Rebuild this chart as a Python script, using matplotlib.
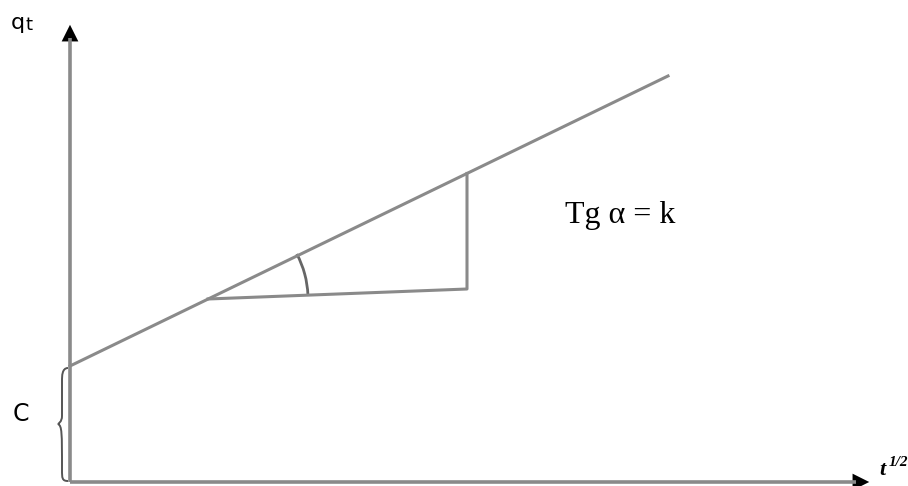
import numpy as np
import matplotlib.pyplot as plt
from matplotlib.patches import Arc, PathPatch, FancyArrowPatch
from matplotlib.path import Path

# intraparticle diffusion sketch: q_t = k * t^(1/2) + C
C = 116.0          # intercept on the q_t axis
k = 0.485          # slope, Tg(alpha)
t_end = 598.0      # where the straight line stops
tri_x = [138.0, 397.0]     # triangle: left corner on the line, right vertical leg
tri_base = [183.0, 193.0]  # base heights at the two corners
x_axis_len = 802.0
y_axis_len = 460.0

grey = '#8a8a8a'

fig = plt.figure(figsize=(9.08, 4.86), dpi=100)
ax = fig.add_axes([0, 0, 1, 1])
ax.set_xlim(-70, 838)
ax.set_ylim(-4, 482)
ax.set_axis_off()

# axes with arrow heads
ax.plot([0, 0], [0, y_axis_len - 16], color=grey, lw=2.6, solid_capstyle='butt')
ax.plot([0, x_axis_len - 16], [0, 0], color=grey, lw=2.6, solid_capstyle='butt')
ax.add_patch(FancyArrowPatch((0, y_axis_len - 22), (0, y_axis_len), arrowstyle='-|>',
                             mutation_scale=30, color='black', lw=0))
ax.add_patch(FancyArrowPatch((x_axis_len - 22, 0), (x_axis_len, 0), arrowstyle='-|>',
                             mutation_scale=30, color='black', lw=0))

# the straight line
t = np.array([0.0, t_end])
ax.plot(t, C + k * t, color=grey, lw=2.2)

# slope triangle
x0, x1 = tri_x
y_top = C + k * x1
ax.plot([x0, x1, x1], [tri_base[0], tri_base[1], y_top], color=grey, lw=2.2)

# angle arc
ang_line = np.degrees(np.arctan(k))
ang_base = np.degrees(np.arctan((tri_base[1] - tri_base[0]) / (x1 - x0)))
ax.add_patch(Arc((x0, tri_base[0]), 200, 196, theta1=ang_base, theta2=ang_line + 1,
                 color='#666666', lw=2))

# brace marking C
bx = -2
verts = [(bx, C - 2), (bx - 6, C - 2), (bx - 6, C - 10), (bx - 6, C - 15),
         (bx - 6, C / 2 + 8),
         (bx - 6, C / 2 + 2), (bx - 10, C / 2), (bx - 10, C / 2),
         (bx - 6, C / 2 - 2), (bx - 6, C / 2 - 8),
         (bx - 6, 12),
         (bx - 6, 4), (bx - 6, 1), (bx, 1)]
codes = [Path.MOVETO, Path.CURVE4, Path.CURVE4, Path.CURVE4,
         Path.LINETO,
         Path.CURVE4, Path.CURVE4, Path.CURVE4,
         Path.CURVE4, Path.CURVE4,
         Path.LINETO,
         Path.CURVE4, Path.CURVE4, Path.CURVE4]
ax.add_patch(PathPatch(Path(verts, codes), fill=False, color='#555555', lw=1.4))

# labels
ax.text(-59, 453, 'q', fontsize=16, family='DejaVu Sans', ha='left', va='baseline')
ax.text(-45, 452, 't', fontsize=13, family='DejaVu Sans', ha='left', va='baseline')
ax.text(-49, 68, 'C', fontsize=17, family='DejaVu Sans', ha='center', va='center')
ax.text(809, 12, 't', fontsize=16, family='Liberation Serif', style='italic',
        fontweight='bold', ha='left', va='center')
ax.text(819, 20, '1/2', fontsize=11, family='Liberation Serif', style='italic',
        fontweight='bold', ha='left', va='center')
ax.text(495, 267, 'Tg α = k', fontsize=23, family='Liberation Serif',
        ha='left', va='center')

fig.savefig('out.png', dpi=100)
